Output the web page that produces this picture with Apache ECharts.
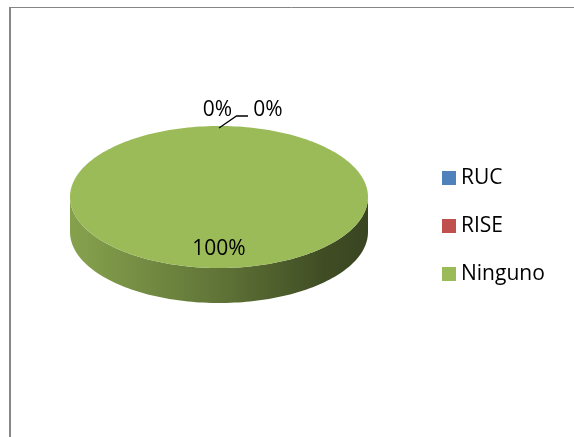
<!DOCTYPE html>
<html>
<head>
<meta charset="utf-8">
<script src="https://cdn.jsdelivr.net/npm/echarts@6/dist/echarts.min.js"></script>
<style>
  html, body { margin: 0; padding: 0; background: #ffffff; }
  #chart { width: 574px; height: 437px; }
</style>
</head>
<body>
<div id="chart"></div>
<script>
// Categories and their shares (percent)
const categories = ['RUC', 'RISE', 'Ninguno'];
const shares = [0, 0, 100];
const sliceColors = ['#4F81BD', '#C0504D', '#9BBB59'];

const total = shares.reduce((a, b) => a + b, 0);
// cumulative start fraction of each slice (clockwise from 12 o'clock)
const startFrac = [];
(function () {
  let acc = 0;
  shares.forEach(v => { startFrac.push(acc / total); acc += v; });
})();

// Geometry of the tilted 3D pie
const PIE = { cx: 219, cy: 197, rx: 149, ry: 71, depth: 35 };
const FONT = '"Open Sans", "Noto Sans", sans-serif';
const FONT_SIZE = 21;

function pt(theta, dy) {
  return [PIE.cx + PIE.rx * Math.cos(theta), PIE.cy - PIE.ry * Math.sin(theta) + (dy || 0)];
}

function scaleColor(hex, f) {
  const n = parseInt(hex.slice(1), 16);
  const r = Math.round(((n >> 16) & 255) * f);
  const g = Math.round(((n >> 8) & 255) * f);
  const b = Math.round((n & 255) * f);
  return 'rgb(' + r + ',' + g + ',' + b + ')';
}

function sideGradient(color) {
  return new echarts.graphic.LinearGradient(PIE.cx - PIE.rx, 0, PIE.cx + PIE.rx, 0, [
    { offset: 0, color: scaleColor(color, 0.86) },
    { offset: 0.06, color: scaleColor(color, 0.84) },
    { offset: 0.5, color: scaleColor(color, 0.62) },
    { offset: 0.85, color: scaleColor(color, 0.41) },
    { offset: 1, color: scaleColor(color, 0.37) }
  ], true);
}

function textEl(x, y, str) {
  return {
    type: 'text',
    z2: 10,
    style: {
      x: x, y: y, text: str,
      fill: '#000000',
      font: FONT_SIZE + 'px ' + FONT,
      align: 'center',
      verticalAlign: 'middle'
    }
  };
}

function renderSlice(i) {
  return function (params, api) {
    const v = api.value(0);
    const a0 = Math.PI / 2 - 2 * Math.PI * startFrac[i];
    const a1 = a0 - 2 * Math.PI * v / total;
    const color = sliceColors[i];
    const children = [];
    const pct = Math.round(v / total * 100) + '%';

    if (v > 0) {
      const full = v >= total;
      const steps = Math.max(4, Math.ceil(240 * v / total));
      // front wall: the parts of the arc on the near half of the ellipse
      for (let k = -2; k <= 1; k++) {
        const lo = Math.max(a1, -Math.PI + 2 * Math.PI * k);
        const hi = Math.min(a0, 2 * Math.PI * k);
        if (hi > lo) {
          const pts = [];
          const n = Math.max(4, Math.ceil(120 * (hi - lo) / Math.PI));
          for (let s = 0; s <= n; s++) pts.push(pt(lo + (hi - lo) * s / n));
          for (let s = n; s >= 0; s--) pts.push(pt(lo + (hi - lo) * s / n, PIE.depth));
          children.push({
            type: 'polygon', z2: 1,
            shape: { points: pts },
            style: { fill: sideGradient(color) }
          });
        }
      }
      // top face
      const top = [];
      if (!full) top.push([PIE.cx, PIE.cy]);
      for (let s = 0; s <= steps; s++) top.push(pt(a0 + (a1 - a0) * s / steps));
      children.push({
        type: 'polygon', z2: 3,
        shape: { points: top },
        style: { fill: color }
      });
      // inside label
      const mid = (a0 + a1) / 2;
      children.push(textEl(PIE.cx + 0.7 * PIE.rx * Math.cos(mid),
                           PIE.cy - 0.7 * PIE.ry * Math.sin(mid) + 2, pct));
    } else {
      // empty slice: label outside, above its position on the rim
      const anchor = pt(a0);
      let zeroIdx = 0;
      for (let j = 0; j < i; j++) if (shares[j] === 0) zeroIdx++;
      if (zeroIdx === 0) {
        children.push(textEl(anchor[0] - 1.5, anchor[1] - 15.5, pct));
      } else {
        children.push({
          type: 'polyline', z2: 9,
          shape: { points: [
            [anchor[0], anchor[1] + 2],
            [anchor[0] + 17.5, anchor[1] - 10],
            [anchor[0] + 29, anchor[1] - 10]
          ] },
          style: { stroke: '#000000', lineWidth: 1.3, fill: null }
        });
        children.push(textEl(anchor[0] + 49, anchor[1] - 15.5, pct));
      }
    }
    return { type: 'group', children: children };
  };
}

const chart = echarts.init(document.getElementById('chart'), null, { renderer: 'canvas' });

chart.setOption({
  animation: false,
  backgroundColor: '#ffffff',
  color: sliceColors,
  legend: {
    orient: 'vertical',
    left: 442,
    top: 167.5,
    padding: 0,
    itemWidth: 14,
    itemHeight: 14,
    itemGap: 27,
    icon: 'rect',
    selectedMode: false,
    textStyle: { fontFamily: FONT, fontSize: FONT_SIZE, color: '#000000' },
    data: categories
  },
  graphic: [
    { type: 'line', shape: { x1: 9, y1: 7.5, x2: 574, y2: 7.5 },
      style: { stroke: '#868686', lineWidth: 1 } },
    { type: 'line', shape: { x1: 10, y1: 7, x2: 10, y2: 437 },
      style: { stroke: '#868686', lineWidth: 2 } }
  ],
  series: categories.map((name, i) => ({
    type: 'custom',
    name: name,
    coordinateSystem: 'none',
    itemStyle: { color: sliceColors[i] },
    renderItem: renderSlice(i),
    data: [[shares[i]]]
  }))
});
</script>
</body>
</html>
